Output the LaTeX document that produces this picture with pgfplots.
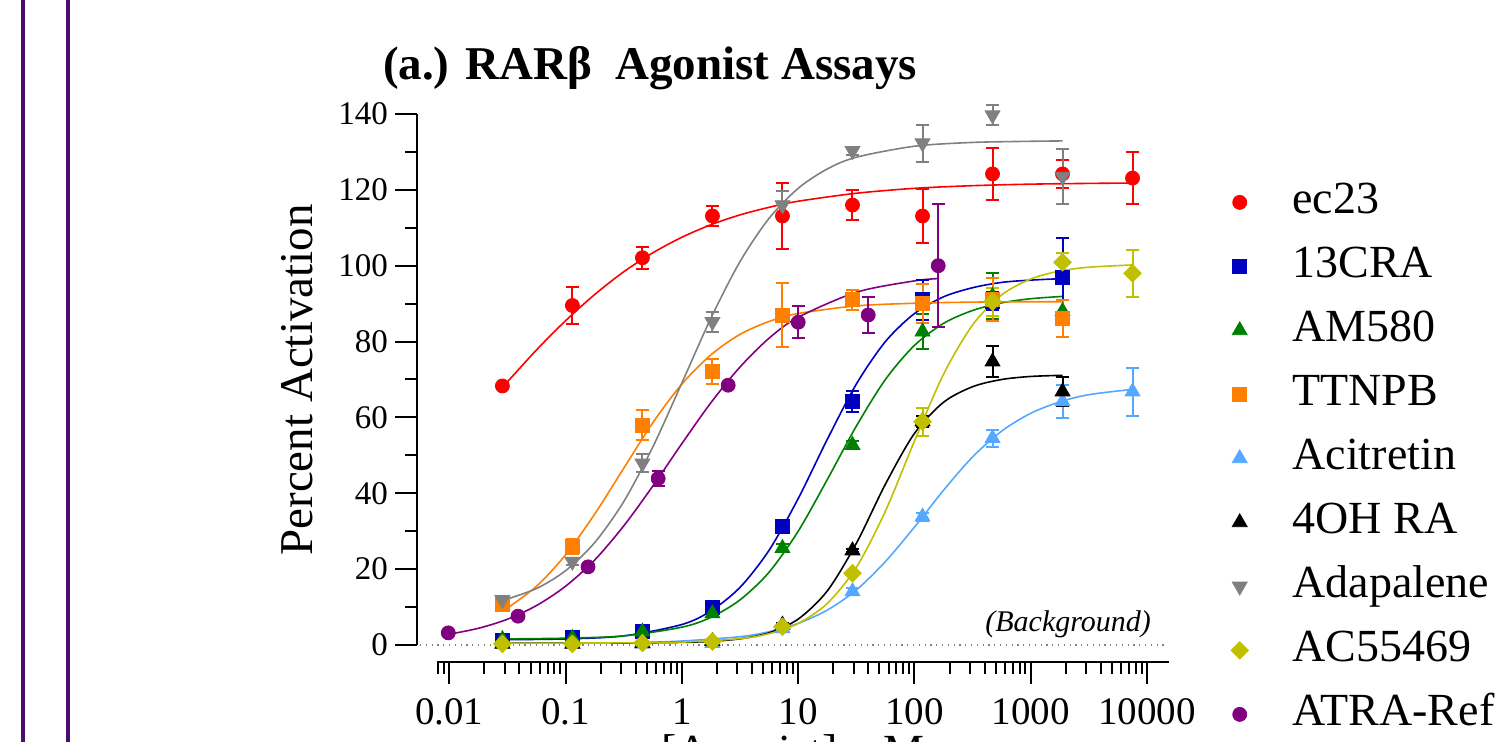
\documentclass[border=0pt]{standalone}
\usepackage{fontspec}
\setmainfont{Liberation Serif}
\usepackage{pgfplots}
\pgfplotsset{compat=1.18}
\definecolor{cRed}{HTML}{FF0000}
\definecolor{cBlue}{HTML}{0000C0}
\definecolor{cGreen}{HTML}{008000}
\definecolor{cOrange}{HTML}{FF8000}
\definecolor{cSky}{HTML}{55A8FF}
\definecolor{cGray}{HTML}{808080}
\definecolor{cOlive}{HTML}{C0C000}
\definecolor{cPurple}{HTML}{800080}
\definecolor{barpurple}{HTML}{4B0C6F}

\pgfplotsset{
  pts/.style={only marks, color=#1, mark size=3.5pt,
    error bars/y dir=both, error bars/y explicit,
    error bars/error bar style={line width=1pt},
    error bars/error mark options={rotate=90, mark size=3.25pt, line width=1pt}},
  fit/.style={color=#1, line width=0.8pt, smooth, no marks, forget plot},
}

\begin{document}
\begin{tikzpicture}
\draw[barpurple, line width=2pt] (11.5pt,0pt) -- (11.5pt,371pt);
\draw[barpurple, line width=2pt] (33.9pt,0pt) -- (33.9pt,371pt);

\begin{axis}[
  at={(208.5pt,40pt)}, anchor=south west,
  scale only axis, width=376pt, height=274pt,
  xmode=log, xmin=0.005275, xmax=15430, ymin=-4.48, ymax=140,
  clip=false,
  axis lines*=left, axis line style={draw=none},
  tick align=outside, tick style={black, line width=1pt},
  major tick length=11pt, minor tick length=6pt,
  xtick={0.01,0.1,1,10,100,1000,10000},
  xticklabels={0.01,0.1,1,10,100,1000,10000},
  minor xtick={0.008,0.009,0.02,0.03,0.04,0.05,0.06,0.07,0.08,0.09,
    0.2,0.3,0.4,0.5,0.6,0.7,0.8,0.9,2,3,4,5,6,7,8,9,
    20,30,40,50,60,70,80,90,200,300,400,500,600,700,800,900,
    2000,3000,4000,5000,6000,7000,8000,9000},
  ytick={0,20,...,140}, minor ytick={10,30,...,130},
  /pgf/number format/assume math mode=true,
  xticklabel style={font=\fontsize{19.5}{22}\selectfont, yshift=-4pt},
  yticklabel style={font=\fontsize{16.5}{19}\selectfont},
  title={(a.) RARβ~~Agonist Assays},
  title style={at={(rel axis cs:-0.0545,1.0414)}, anchor=base west,
    font=\bfseries\fontsize{23.5}{28}\selectfont},
  ylabel={Percent Activation},
  ylabel style={at={(rel axis cs:-0.1383,0.5146)}, anchor=base,
    font=\fontsize{23.5}{28}\selectfont},
  xlabel={[Agonist], nM},
  xlabel style={at={(rel axis cs:0.5,-0.19)}, anchor=base,
    font=\fontsize{23}{27}\selectfont},
  legend cell align=left,
  legend image code/.code={\draw[mark repeat=1,mark phase=1,#1] plot coordinates {(0pt,0pt)};},
  legend style={at={(rel axis cs:1.0824,0.877)}, anchor=north west,
    draw=none, fill=none, inner sep=0pt, outer sep=0pt,
    font=\fontsize{23}{27}\selectfont, row sep=11pt,
    nodes={inner sep=0pt, text height=16pt, text depth=5pt},
    /tikz/every odd column/.append style={column sep=22pt}},
]

% axis lines, offset as in the original
\draw[line width=1pt] (axis cs:0.005275,0) -- (axis cs:0.005275,140);
\draw[line width=1pt] (axis cs:0.007838,-4.48) -- (axis cs:15430,-4.48);
\addplot[gray, line width=0.6pt, dash pattern=on 0.6pt off 2.3pt, forget plot]
  coordinates {(0.0056,0) (14800,0)};
\node[anchor=base east, font=\itshape\fontsize{15}{18}\selectfont]
  at (axis cs:12400,3.5) {(Background)};

% fitted curves
\addplot[fit=cRed] coordinates {(0.02861,67.9) (0.05623,77.8) (0.1,85.5) (0.1778,92.4)
  (0.3162,98.4) (0.5623,103.4) (1,107.5) (1.778,110.8) (3.162,113.4) (5.623,115.4)
  (10,117.0) (31.62,119.1) (100,120.4) (316.2,121.1) (1000,121.5) (3162,121.7) (7500,121.8)};
\addplot[fit=cBlue] coordinates {(0.02861,1.4) (0.1,1.6) (0.3162,2.4) (1,5.4) (1.778,9.0)
  (3.162,15.2) (5.623,25.0) (10,38.6) (17.78,54.2) (31.62,68.8) (56.23,80.0) (100,87.4)
  (177.8,91.8) (316.2,94.2) (562.3,95.6) (1000,96.2) (1875,96.6)};
\addplot[fit=cGreen] coordinates {(0.02861,1.6) (0.1,1.8) (0.3162,2.4) (1,4.7) (1.778,7.3)
  (3.162,11.9) (5.623,19.2) (10,30.0) (17.78,43.6) (31.62,57.7) (56.23,70.0) (100,79.0)
  (177.8,84.8) (316.2,88.2) (562.3,90.2) (1000,91.3) (1875,91.9)};
\addplot[fit=cOrange] coordinates {(0.02861,8.8) (0.05623,15.5) (0.1,23.8) (0.1778,34.5)
  (0.3162,46.6) (0.5623,58.6) (1,68.8) (1.778,76.5) (3.162,81.9) (5.623,85.3) (10,87.4)
  (31.62,89.4) (100,90.1) (316.2,90.4) (1000,90.5) (1875,90.5)};
\addplot[fit=cSky] coordinates {(0.02861,0.5) (0.1,0.5) (0.3162,0.52) (1,1.05) (3.162,2.2)
  (5.623,3.5) (10,5.7) (17.78,9.2) (31.62,14.5) (56.23,22.0) (100,31.1) (177.8,40.8)
  (316.2,49.6) (562.3,56.4) (1000,61.1) (1778,64.1) (3162,66.0) (7500,67.4)};
\addplot[fit=black] coordinates {(0.02861,0.5) (0.1,0.5) (0.3162,0.53) (1,0.69) (1.778,0.97)
  (3.162,1.63) (5.623,3.22) (10,6.83) (17.78,14.25) (31.62,26.8) (56.23,42.4) (100,55.8)
  (177.8,64.0) (316.2,68.1) (562.3,70.0) (1000,70.8) (1875,71.1)};
\addplot[fit=cGray] coordinates {(0.02861,11.7) (0.05623,14.9) (0.1,19.6) (0.1778,27.0)
  (0.3162,37.8) (0.5623,52.2) (1,69.1) (1.778,86.2) (3.162,101.1) (5.623,112.5) (10,120.4)
  (17.78,125.5) (31.62,128.6) (100,131.5) (316.2,132.5) (1000,132.8) (1875,132.9)};
\addplot[fit=cOlive] coordinates {(0.02861,0.5) (0.1,0.51) (0.3162,0.56) (1,0.76) (3.162,1.68)
  (5.623,2.99) (10,5.68) (17.78,10.95) (31.62,20.46) (56.23,35.3) (100,53.8) (177.8,71.4)
  (316.2,84.4) (562.3,92.3) (1000,96.5) (1778,98.6) (3162,99.6) (7500,100.2)};
\addplot[fit=cPurple] coordinates {(0.0098,2.8) (0.01778,4.4) (0.03162,6.8) (0.05623,10.4)
  (0.1,15.5) (0.1778,22.4) (0.3162,31.4) (0.5623,41.9) (1,53.1) (1.778,63.9) (3.162,73.3)
  (5.623,80.9) (10,86.4) (31.62,93.0) (100,96.0) (160,96.6)};

% measured points
\addplot[pts=cRed, mark=*] coordinates {(0.02861,68.3) +- (0,0) (0.1144,89.5) +- (0,4.8)
  (0.4578,102.1) +- (0,2.9) (1.831,113.1) +- (0,2.6) (7.324,113.1) +- (0,8.7)
  (29.3,116) +- (0,3.9) (117.2,113.1) +- (0,7) (468.8,124.2) +- (0,6.9)
  (1875,124.2) +- (0,3.6) (7500,123.1) +- (0,6.9)};
\addlegendentry{ec23}
\addplot[pts=cBlue, mark=square*] coordinates {(0.02861,1.3) +- (0,0) (0.1144,2.0) +- (0,0)
  (0.4578,3.5) +- (0,0.5) (1.831,9.8) +- (0,1) (7.324,31.2) +- (0,1) (29.3,64.2) +- (0,2.8)
  (117.2,91) +- (0,5.2) (468.8,90.7) +- (0,2.4) (1875,96.9) +- (0,10.5)};
\addlegendentry{13CRA}
\addplot[pts=cGreen, mark=triangle*, mark size=4.3pt] coordinates {(0.02861,1.5) +- (0,0)
  (0.1144,1.8) +- (0,0) (0.4578,3.5) +- (0,0.5) (1.831,8.3) +- (0,0.8) (7.324,25.5) +- (0,1)
  (29.3,52.7) +- (0,1) (117.2,82.6) +- (0,4.6) (468.8,92) +- (0,6) (1875,88) +- (0,3)};
\addlegendentry{AM580}
\addplot[pts=cOrange, mark=square*] coordinates {(0.02861,10.8) +- (0,1) (0.1144,25.9) +- (0,2)
  (0.4578,58) +- (0,4) (1.831,72.1) +- (0,3.3) (7.324,87) +- (0,8.4) (29.3,91) +- (0,2.6)
  (117.2,90.1) +- (0,5.2) (468.8,91) +- (0,5.7) (1875,86.1) +- (0,4.9)};
\addlegendentry{TTNPB}
\addplot[pts=cSky, mark=triangle*, mark size=4.3pt] coordinates {(0.02861,0.3) +- (0,0)
  (0.1144,0.3) +- (0,0) (0.4578,0.3) +- (0,0) (1.831,0.5) +- (0,0) (7.324,4.4) +- (0,0.5)
  (29.3,14.1) +- (0,0.8) (117.2,33.8) +- (0,1) (468.8,54.5) +- (0,2.3) (1875,64.2) +- (0,4.3)
  (7500,66.8) +- (0,6.3)};
\addlegendentry{Acitretin}
\addplot[pts=black, mark=triangle*, mark size=4.3pt] coordinates {(0.02861,0.3) +- (0,0)
  (0.1144,0.3) +- (0,0) (0.4578,0.5) +- (0,0) (1.831,1.0) +- (0,0) (7.324,5.3) +- (0,0.5)
  (29.3,24.9) +- (0,0.5) (117.2,58.9) +- (0,1.5) (468.8,74.7) +- (0,4.1) (1875,66.8) +- (0,3.8)};
\addlegendentry{4OH RA}
\addplot[pts=cGray, mark=triangle*, mark size=4.3pt, mark options={rotate=180}] coordinates {
  (0.02861,11.9) +- (0,1) (0.1144,22) +- (0,1) (0.4578,47.9) +- (0,2.4) (1.831,85.2) +- (0,2.6)
  (7.324,116) +- (0,3.7) (29.3,130.3) +- (0,1) (117.2,132.3) +- (0,4.9) (468.8,139.7) +- (0,2.6)
  (1875,123.5) +- (0,7.3)};
\addlegendentry{Adapalene}
\addplot[pts=cOlive, mark=square*, mark size=3.1pt, mark options={rotate=45}] coordinates {
  (0.02861,0.3) +- (0,0) (0.1144,0.3) +- (0,0) (0.4578,0.5) +- (0,0) (1.831,0.9) +- (0,0)
  (7.324,4.8) +- (0,0.5) (29.3,18.9) +- (0,0.5) (117.2,58.9) +- (0,3.7) (468.8,90.5) +- (0,3.7)
  (1875,100.9) +- (0,2.4) (7500,98) +- (0,6.2)};
\addlegendentry{AC55469}
\addplot[pts=cPurple, mark=*] coordinates {(0.0098,3.2) +- (0,0) (0.039,7.6) +- (0,0)
  (0.156,20.6) +- (0,0) (0.625,43.9) +- (0,2) (2.5,68.5) +- (0,0.5) (10,85.1) +- (0,4.2)
  (40,87) +- (0,4.8) (160,100) +- (0,16.2)};
\addlegendentry{ATRA-Ref}
\end{axis}

\pgfresetboundingbox
\path[use as bounding box] (0pt,0pt) rectangle (748pt,371pt);
\end{tikzpicture}
\end{document}
